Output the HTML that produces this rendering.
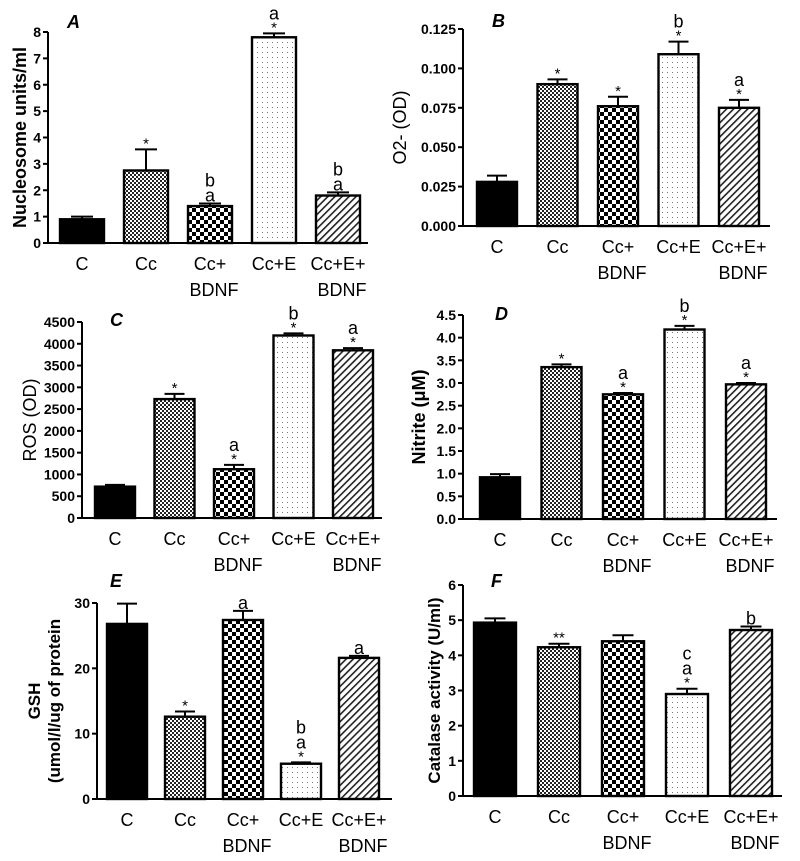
<!DOCTYPE html>
<html><head><meta charset="utf-8"><style>
body{margin:0;background:#fff}
svg{display:block}
text{font-family:"Liberation Sans",sans-serif}
</style></head><body>
<svg id="fig" width="800" height="861" viewBox="0 0 800 861">
<defs>
<pattern id="pFine" width="4" height="4" patternUnits="userSpaceOnUse"><rect width="4" height="4" fill="#fff"/><rect width="2" height="2" fill="#222"/><rect x="2" y="2" width="2" height="2" fill="#222"/></pattern>
<pattern id="pCoarse" width="8" height="8" patternUnits="userSpaceOnUse"><rect width="8" height="8" fill="#fff"/><rect width="4" height="4" fill="#000"/><rect x="4" y="4" width="4" height="4" fill="#000"/></pattern>
<pattern id="pDots" width="5" height="5" patternUnits="userSpaceOnUse"><rect width="5" height="5" fill="#fff"/><rect x="2" y="2" width="1" height="1" fill="#777"/></pattern>
<pattern id="pHatch" width="5" height="5" patternUnits="userSpaceOnUse" patternTransform="rotate(45)"><rect width="5" height="5" fill="#fff"/><rect width="1.6" height="5" fill="#222"/></pattern>
</defs>
</svg>
<script>
const categories = ["C","Cc","Cc+\nBDNF","Cc+E","Cc+E+\nBDNF"];
const fills = ["#000","url(#pFine)","url(#pCoarse)","url(#pDots)","url(#pHatch)"];
const valuesA = [0.9, 2.75, 1.4, 7.8, 1.8];
const errorsA = [0.1, 0.8, 0.1, 0.15, 0.12];
const annotA = [[],["*"],["a","b"],["*","a"],["a","b"]];
const valuesB = [0.028, 0.090, 0.076, 0.109, 0.075];
const errorsB = [0.004, 0.003, 0.006, 0.008, 0.005];
const annotB = [[],["*"],["*"],["*","b"],["*","a"]];
const valuesC = [720, 2730, 1120, 4190, 3850];
const errorsC = [40, 120, 100, 50, 50];
const annotC = [[],["*"],["*","a"],["*","b"],["*","a"]];
const valuesD = [0.92, 3.35, 2.75, 4.18, 2.97];
const errorsD = [0.07, 0.06, 0.03, 0.08, 0.03];
const annotD = [[],["*"],["*","a"],["*","b"],["*","a"]];
const valuesE = [26.8, 12.6, 27.4, 5.4, 21.6];
const errorsE = [3.1, 0.8, 1.4, 0.2, 0.3];
const annotE = [[],["*"],["a"],["*","a","b"],["a"]];
const valuesF = [4.93, 4.23, 4.4, 2.9, 4.72];
const errorsF = [0.12, 0.1, 0.17, 0.15, 0.1];
const annotF = [[],["**"],[],["*","a","c"],["b"]];
const ticksA = [0,1,2,3,4,5,6,7,8];
const ticksB = [0,0.025,0.05,0.075,0.1,0.125];
const ticksC = [0,500,1000,1500,2000,2500,3000,3500,4000,4500];
const ticksD = [0,0.5,1,1.5,2,2.5,3,3.5,4,4.5];
const ticksE = [0,10,20,30];
const ticksF = [0,1,2,3,4,5,6];

const NS = "http://www.w3.org/2000/svg";
const svg = document.getElementById("fig");
function mk(tag, attrs, parent){const e=document.createElementNS(NS,tag);for(const k in attrs)e.setAttribute(k,attrs[k]);(parent||svg).appendChild(e);return e;}

const panels = [
 {id:"a",label:"A",lx:67,ly:28,x0:48,x1:368,y0:243,yt:32,max:8,ticks:ticksA,dec:0,c0:82,step:64,bw:44,vals:valuesA,errs:errorsA,ann:annotA,title:["Nucleosome units/ml"],tx:[26],tfs:18},
 {id:"b",label:"B",lx:492,ly:27,x0:463,x1:770,y0:226,yt:29,max:0.125,ticks:ticksB,dec:3,c0:497,step:60.5,bw:40,vals:valuesB,errs:errorsB,ann:annotB,title:["O2- (OD)"],tx:[406],tfs:18,normal:true},
 {id:"c",label:"C",lx:110,ly:326,x0:82,x1:382,y0:518,yt:322,max:4500,ticks:ticksC,dec:0,c0:115,step:59.5,bw:40,vals:valuesC,errs:errorsC,ann:annotC,title:["ROS (OD)"],tx:[36],tfs:18,normal:true},
 {id:"d",label:"D",lx:495,ly:320,x0:463,x1:777,y0:519,yt:315,max:4.5,ticks:ticksD,dec:1,c0:500,step:61.5,bw:40,vals:valuesD,errs:errorsD,ann:annotD,title:["Nitrite (\u03bcM)"],tx:[425],tfs:18},
 {id:"e",label:"E",lx:110,ly:587,x0:97,x1:392,y0:799,yt:603,max:30,ticks:ticksE,dec:0,c0:127,step:58,bw:40,vals:valuesE,errs:errorsE,ann:annotE,title:["GSH","(umol/l/ug of protein"],tx:[40,60],tfs:17},
 {id:"f",label:"F",lx:491,ly:587,x0:463,x1:782,y0:796,yt:585,max:6,ticks:ticksF,dec:0,c0:495,step:64,bw:42,vals:valuesF,errs:errorsF,ann:annotF,title:["Catalase activity (U/ml)"],tx:[440],tfs:17},
];

panels.forEach(p=>{
  const g = mk("g",{});
  
  
  const y = v => p.y0 - (v/p.max)*(p.y0-p.yt);
  const xc = i => p.c0 + i*p.step;
  const pl = mk("text",{x:p.lx,y:p.ly,"font-size":18,"font-weight":"bold","font-style":"italic"},g);
  pl.textContent = p.label;
  
  
  const cy = (p.y0+p.yt)/2;
  p.title.forEach((t,k)=>{
    const tt = mk("text",{x:p.tx[k],y:cy,"font-size":p.tfs,"font-weight":p.normal?"normal":"bold","text-anchor":"middle",transform:`rotate(-90 ${p.tx[k]} ${cy})`},g);
    tt.textContent = t;
    
    
  });
  p.vals.forEach((v,i)=>{
    const x = xc(i)-p.bw/2, yy = y(v), ye = y(v+p.errs[i]);
    const el = mk("line",{x1:xc(i),x2:xc(i),y1:yy,y2:ye,stroke:"#000","stroke-width":2},g);
    
    
    const cap = mk("line",{x1:xc(i)-p.bw/4,x2:xc(i)+p.bw/4,y1:ye,y2:ye,stroke:"#000","stroke-width":2},g);
    
    
    const r = mk("rect",{x:x,y:yy,width:p.bw,height:p.y0-yy,fill:fills[i],stroke:"#000","stroke-width":2.4},g);
    
    
    let cur = ye;
    p.ann[i].forEach((a,k)=>{
      const isStar = a.indexOf("*")>=0;
      let base;
      if(isStar){ base = cur - 1; cur = cur - 12; }
      else { base = cur - 2; cur = base - 13; }
      const at = mk("text",{x:xc(i),y:base,"font-size":isStar?15:18,"text-anchor":"middle"},g);
      at.textContent = a;
      
      
    });
    categories[i].split("\n").forEach((ln,k)=>{
      const ct = mk("text",{x:xc(i)+(k?4:0),y:p.y0+27+k*26,"font-size":18,"text-anchor":"middle"},g);
      ct.textContent = ln;
      
      
    });
  });
  const ax = mk("line",{x1:p.x0,x2:p.x0,y1:p.y0,y2:p.yt,stroke:"#000","stroke-width":2},g);
  
  
  const bx = mk("line",{x1:p.x0,x2:p.x1,y1:p.y0,y2:p.y0,stroke:"#000","stroke-width":2},g);
  
  
  p.ticks.forEach(t=>{
    const tk = mk("line",{x1:p.x0-5,x2:p.x0,y1:y(t),y2:y(t),stroke:"#000","stroke-width":2},g);
    
    
    const tl = mk("text",{x:p.x0-7,y:y(t)+5,"font-size":14,"font-weight":"bold","text-anchor":"end"},g);
    tl.textContent = t.toFixed(p.dec);
    
    
  });
});
</script>
</body></html>
